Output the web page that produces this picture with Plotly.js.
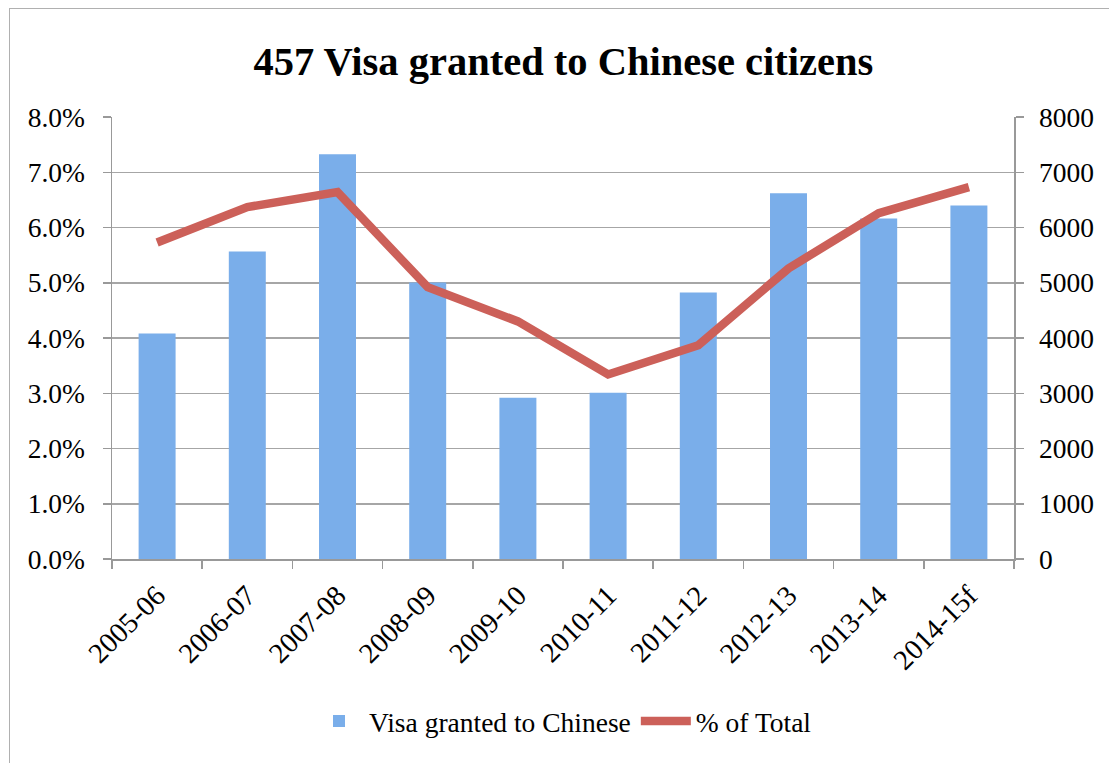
<!DOCTYPE html>
<html>
<head>
<meta charset="utf-8">
<script src="https://cdn.plot.ly/plotly-3.0.1.min.js"></script>
<style>
  html, body { margin: 0; padding: 0; background: #fff; }
  #chart { position: absolute; left: 0; top: 0; width: 1109px; height: 763px; }
  #frame { position: absolute; left: 9px; top: 8px; width: 1200px; height: 800px;
           border-left: 1.5px solid #b0b0b0; border-top: 1.5px solid #b0b0b0; pointer-events: none; }
</style>
</head>
<body>
<div id="chart"></div>
<div id="frame"></div>
<script>
const categories = ["2005-06","2006-07","2007-08","2008-09","2009-10","2010-11","2011-12","2012-13","2013-14","2014-15f"];
const visaGranted = [4080, 5565, 7325, 5005, 2920, 3010, 4825, 6620, 6165, 6400];
const pctOfTotal = [0.0573, 0.0637, 0.0664, 0.0492, 0.0430, 0.0334, 0.0387, 0.0526, 0.0626, 0.0673];
const leftTicks = [0, 0.01, 0.02, 0.03, 0.04, 0.05, 0.06, 0.07, 0.08];
const rightTicks = [0, 1000, 2000, 3000, 4000, 5000, 6000, 7000, 8000];

const FONT = "'Liberation Serif', 'Times New Roman', serif";

const traces = [
  {
    type: "bar",
    name: "Visa granted to Chinese",
    x: categories,
    y: visaGranted,
    yaxis: "y",
    width: 0.41,
    marker: { color: "#7aaeea", line: { width: 0 } }
  },
  {
    type: "scatter",
    mode: "lines",
    name: "% of Total",
    x: categories,
    y: pctOfTotal,
    yaxis: "y2",
    line: { color: "#cc6059", width: 8.5 }
  }
];

const layout = {
  width: 1109,
  height: 763,
  paper_bgcolor: "#ffffff",
  plot_bgcolor: "#ffffff",
  margin: { l: 112, r: 95, t: 117, b: 204 },
  font: { family: FONT, size: 27, color: "#000" },
  title: {
    text: "<b>457 Visa granted to Chinese citizens</b>",
    font: { family: FONT, size: 40.5, color: "#000" },
    x: 0.508, xanchor: "center",
    y: 0.92, yanchor: "middle",
    yref: "container"
  },
  showlegend: true,
  legend: {
    orientation: "h",
    x: 0.5, xanchor: "center",
    y: -0.367, yanchor: "middle",
    font: { family: FONT, size: 27.5 },
    itemwidth: 50,
    traceorder: "normal"
  },
  bargap: 0.59,
  xaxis: {
    type: "category",
    tickangle: -45,
    tickson: "boundaries",
    ticks: "outside",
    ticklen: 8,
    tickcolor: "#999",
    tickwidth: 1.5,
    ticklabelstandoff: 7,
    showline: true,
    linecolor: "#999",
    linewidth: 1.5,
    showgrid: false,
    tickfont: { family: FONT, size: 28.5 },
    fixedrange: true
  },
  yaxis: {
    side: "right",
    range: [0, 8000],
    tickvals: rightTicks,
    ticktext: rightTicks.map(v => String(v)),
    ticks: "outside",
    ticklen: 8,
    tickcolor: "#999",
    tickwidth: 1.5,
    ticklabelstandoff: 10,
    showline: true,
    linecolor: "#999",
    linewidth: 1.5,
    showgrid: true,
    gridcolor: "#a6a6a6",
    gridwidth: 1.5,
    zeroline: false,
    tickfont: { family: FONT, size: 27.5 },
    fixedrange: true
  },
  yaxis2: {
    overlaying: "y",
    side: "left",
    range: [0, 0.08],
    tickvals: leftTicks,
    ticktext: leftTicks.map(v => (v * 100).toFixed(1) + "%"),
    ticks: "outside",
    ticklen: 8,
    tickcolor: "#999",
    tickwidth: 1.5,
    ticklabelstandoff: 12,
    showline: true,
    linecolor: "#999",
    linewidth: 1.5,
    showgrid: false,
    zeroline: false,
    tickfont: { family: FONT, size: 27.5 },
    fixedrange: true
  }
};

Plotly.newPlot("chart", traces, layout, { displayModeBar: false, staticPlot: true });
</script>
</body>
</html>
